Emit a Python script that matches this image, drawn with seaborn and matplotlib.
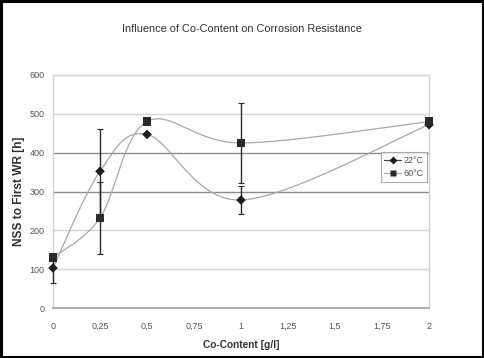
import numpy as np
import pandas as pd
import matplotlib
matplotlib.use("Agg")
import matplotlib.pyplot as plt
import seaborn as sns
from matplotlib.patches import Rectangle
from matplotlib.lines import Line2D

# ---- data ----
co_content = [0, 0.25, 0.5, 1, 2]
nss_22 = [103, 352, 447, 278, 472]
err_22 = [38, 110, 0, 35, 0]
nss_60 = [130, 232, 480, 425, 480]
err_60 = [8, 92, 0, 103, 0]
series_labels = ["22°C", "60°C"]
x_ticks = [0, 0.25, 0.5, 0.75, 1, 1.25, 1.5, 1.75, 2]
x_tick_labels = ["0", "0,25", "0,5", "0,75", "1", "1,25", "1,5", "1,75", "2"]
y_ticks = [0, 100, 200, 300, 400, 500, 600]

sns.set_style("white")
plt.rcParams["font.family"] = ["Liberation Sans", "DejaVu Sans"]

fig = plt.figure(figsize=(4.84, 3.58), dpi=100)
ax = fig.add_axes([53/484, 1-308/358, (429-53)/484, (308-75)/358])

W, H = 376.0, 233.0  # axes size in px, used for screen-space smoothing


def excel_smooth(xs, ys, n=40):
    # Catmull-Rom style Bezier smoothing (as in spreadsheet "smoothed line")
    P = np.column_stack([np.asarray(xs, float) / 2 * W, np.asarray(ys, float) / 600 * H])
    out = []
    m = len(P)
    for i in range(m - 1):
        p0 = P[i - 1] if i > 0 else P[i]
        p1, p2 = P[i], P[i + 1]
        p3 = P[i + 2] if i + 2 < m else P[i + 1]
        c1 = p1 + (p2 - p0) / 6
        c2 = p2 - (p3 - p1) / 6
        t = np.linspace(0, 1, n)[:, None]
        seg = ((1 - t) ** 3) * p1 + 3 * ((1 - t) ** 2) * t * c1 + 3 * (1 - t) * t ** 2 * c2 + t ** 3 * p2
        out.append(seg if i == 0 else seg[1:])
    C = np.vstack(out)
    return C[:, 0] / W * 2, C[:, 1] / H * 600


# gridlines
for yv in y_ticks[1:]:
    col = "#8c8c8c" if yv in (300, 400) else "#d4d4d4"
    ax.axhline(yv, color=col, lw=1.0, zorder=0)

line_col = "#a8a8a8"
for ys, lab in [(nss_22, series_labels[0]), (nss_60, series_labels[1])]:
    sx, sy = excel_smooth(co_content, ys)
    df = pd.DataFrame({"x": sx, "y": sy})
    sns.lineplot(data=df, x="x", y="y", sort=False, estimator=None, ax=ax,
                 color=line_col, lw=0.9, zorder=2)

for ys, es in [(nss_22, err_22), (nss_60, err_60)]:
    eb = ax.errorbar(co_content, ys, yerr=es, fmt="none", ecolor="#2a2a2a",
                     elinewidth=1.0, capsize=2, capthick=0.8, zorder=3)
    for art in eb.lines[1] + eb.lines[2]:
        art.set_clip_on(False)

sns.scatterplot(x=co_content, y=nss_22, marker="D", s=24, color="#1e1e1e",
                edgecolor="none", ax=ax, zorder=4, clip_on=False)
sns.scatterplot(x=co_content, y=nss_60, marker="s", s=36, color="#2a2a2a",
                edgecolor="none", ax=ax, zorder=4, clip_on=False)

ax.set_xlim(0, 2)
ax.set_ylim(0, 600)
ax.set_xticks(x_ticks)
ax.set_xticklabels(x_tick_labels)
ax.set_yticks(y_ticks)
ax.tick_params(axis="both", labelsize=6.5, length=3, width=0.8, direction="out")
ax.tick_params(axis="x", pad=7, colors="#999999", labelcolor="#555555")
ax.tick_params(axis="y", pad=3, colors="#999999", labelcolor="#555555")
for sp in ["left", "top", "right"]:
    ax.spines[sp].set_color("#d4d4d4")
    ax.spines[sp].set_linewidth(1.0)
ax.spines["bottom"].set_color("#b0b0b0")
ax.spines["bottom"].set_linewidth(1.5)

ax.set_xlabel("Co-Content [g/l]", fontsize=7.3, fontweight="bold", color="#333333")
ax.set_ylabel("NSS to First WR [h]", fontsize=8.6, fontweight="bold", color="#333333")
ax.xaxis.set_label_coords(0.5, (308 - 340) / 233)
ax.yaxis.set_label_coords((25 - 53) / 376, 0.5)
fig.text(0.5, 1-29/358, "Influence of Co-Content on Corrosion Resistance",
         ha="center", va="center", fontsize=7.9, color="#333333")

handles = [Line2D([], [], color="#444444", lw=0.9, marker="D", markersize=4, markerfacecolor="#1e1e1e", markeredgecolor="none"),
           Line2D([], [], color="#aaaaaa", lw=0.9, marker="s", markersize=4.5, markerfacecolor="#2a2a2a", markeredgecolor="none")]
leg = ax.legend(handles, series_labels, loc="center", bbox_to_anchor=((404-53)/376, (308-167)/233),
                fontsize=6.5, frameon=True, fancybox=False, handlelength=1.8,
                handletextpad=0.3, borderpad=0.4, labelspacing=0.5, borderaxespad=0)
leg.get_frame().set_edgecolor("#999999")
leg.get_frame().set_linewidth(0.8)
for t in leg.get_texts():
    t.set_color("#555555")

fig.patches.append(Rectangle((0.002, 0.003), 0.996, 0.994, transform=fig.transFigure,
                             fill=False, edgecolor="black", lw=2.2))

fig.savefig("out.png", dpi=100)
